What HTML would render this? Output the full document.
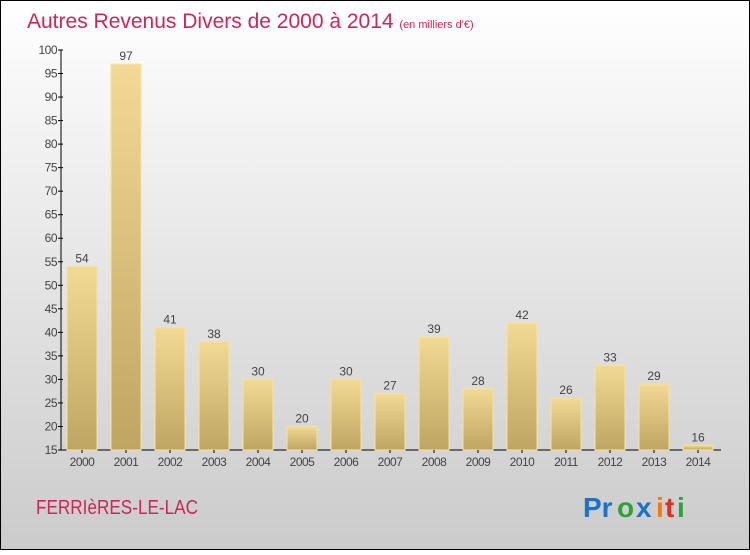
<!DOCTYPE html>
<html><head><meta charset="utf-8"><style>
html,body{margin:0;padding:0}
body{width:750px;height:550px;overflow:hidden;font-family:"Liberation Sans",sans-serif}
</style></head><body>
<svg width="750" height="550" xmlns="http://www.w3.org/2000/svg">
<defs>
<linearGradient id="bg" x1="0" y1="0" x2="0" y2="1"><stop offset="0" stop-color="#ffffff"/><stop offset="1" stop-color="#cbcbcb"/></linearGradient>
<linearGradient id="bar" x1="0" y1="0" x2="0" y2="1"><stop offset="0" stop-color="#f2da94"/><stop offset="1" stop-color="#bea662"/></linearGradient>
</defs>
<rect x="0.5" y="0.5" width="749" height="549" fill="url(#bg)" stroke="#000"/>
<text x="27" y="28" font-size="21" fill="#c8285a">Autres Revenus Divers de 2000 à 2014 <tspan font-size="11">(en milliers d'€)</tspan></text>
<g id="yaxis"></g>
<g id="bars"></g>
<text x="36" y="514" font-size="20" fill="#c8285a" textLength="162" lengthAdjust="spacingAndGlyphs">FERRIèRES-LE-LAC</text>
<g font-size="28" font-weight="bold">
<text x="583" y="517" fill="#1a73c8">Pr</text><text x="617" y="517" fill="#2aa33a">o</text><text x="636" y="517" fill="#1a73c8">x</text><text x="656" y="517" fill="#f07a10">i</text><text x="665" y="517" fill="#e03020">t</text><text x="677" y="517" fill="#2aa33a">i</text>
</g>
</svg>
<script>
const years=["2000","2001","2002","2003","2004","2005","2006","2007","2008","2009","2010","2011","2012","2013","2014"];
const values=[54,97,41,38,30,20,30,27,39,28,42,26,33,29,16];
const yTicks=[15,20,25,30,35,40,45,50,55,60,65,70,75,80,85,90,95,100];
const NS="http://www.w3.org/2000/svg";
const y0=450,y1=50,vMin=15,vMax=100;
function yS(v){return y0-(v-vMin)*(y0-y1)/(vMax-vMin);}
function xC(i){return 82+i*44;}
function mk(t,a,p){const e=document.createElementNS(NS,t);for(const k in a)e.setAttribute(k,a[k]);p.appendChild(e);return e;}
const ya=document.getElementById('yaxis'),bg=document.getElementById('bars');
mk('line',{x1:61,y1:y1,x2:61,y2:y0,stroke:'#000','stroke-width':1},ya);
mk('line',{x1:61,y1:y0,x2:721,y2:y0,stroke:'#000','stroke-width':1},ya);
yTicks.forEach(v=>{const y=yS(v);
const l=mk('line',{x1:58,y1:y,x2:63,y2:y,stroke:'#000'},ya);


const t=mk('text',{x:57,y:y+4,'font-size':12,'text-anchor':'end',fill:'#444','letter-spacing':'-0.5'},ya);
t.textContent=v;

});
values.forEach((v,i)=>{const x=xC(i),y=yS(v);
const r=mk('rect',{x:x-15,y:y,width:30,height:y0-y,fill:'url(#bar)',stroke:'#f5e3a0','stroke-width':1},bg);


const t=mk('text',{x:x,y:y-4,'font-size':12,'text-anchor':'middle',fill:'#444'},bg);
t.textContent=v;


const xl=mk('text',{x:x,y:466,'font-size':12,'text-anchor':'middle',fill:'#444','letter-spacing':'-0.5'},bg);
xl.textContent=years[i];


mk('line',{x1:x,y1:y0,x2:x,y2:y0+3,stroke:'#000'},bg);});
</script>
</body></html>
